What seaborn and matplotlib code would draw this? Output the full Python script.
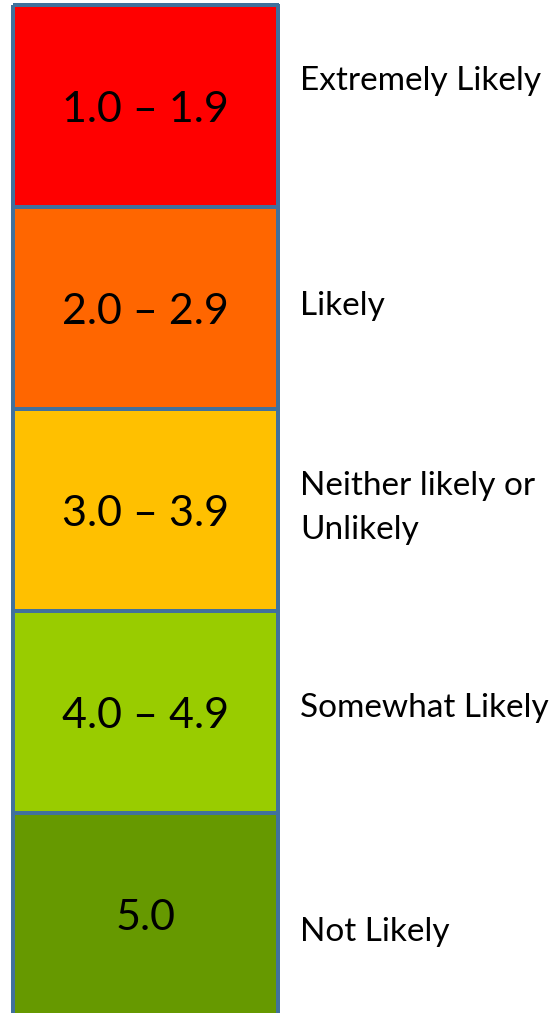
import numpy as np
import matplotlib
matplotlib.use("Agg")
import matplotlib.pyplot as plt
import matplotlib.transforms as mtransforms
from matplotlib.colors import ListedColormap
import seaborn as sns

# ---- data ----
score_ranges = ["1.0 \u2013 1.9", "2.0 \u2013 2.9", "3.0 \u2013 3.9", "4.0 \u2013 4.9", "5.0"]
likelihood_labels = ["Extremely Likely", "Likely", "Neither likely or\nUnlikely",
                     "Somewhat Likely", "Not Likely"]
band_colors = ["#FF0000", "#FF6600", "#FFC000", "#99CC00", "#669900"]

# label vertical placement within each band (fraction of band, 0 = top)
label_pos = [0.375, 0.49, 0.49, 0.48, 0.59]

sns.set_theme(style="white")
plt.rcParams["font.family"] = ["Lato", "DejaVu Sans"]

fig = plt.figure(figsize=(5.54, 10.13), dpi=100)
W, H = 554, 1013
ax = fig.add_axes([13 / W, -2 / H, 265 / W, 1010 / H])

codes = np.arange(len(score_ranges)).reshape(-1, 1)
annot = np.array(score_ranges).reshape(-1, 1)
sns.heatmap(codes, ax=ax, cmap=ListedColormap(band_colors), vmin=-0.5,
            vmax=len(band_colors) - 0.5, cbar=False, annot=annot, fmt="",
            annot_kws={"color": "black", "fontsize": 31, "va": "center_baseline"},
            linewidths=1.5, linecolor="#41719C", xticklabels=False, yticklabels=False)
ax.collections[0].set_clip_on(False)

trans = mtransforms.blended_transform_factory(ax.transAxes, ax.transData)
for i, (lab, p) in enumerate(zip(likelihood_labels, label_pos)):
    ax.text((300 - 13) / 265, i + p, lab, transform=trans, ha="left", va="center",
            fontsize=24, color="black", linespacing=1.6, clip_on=False)

for s in ax.spines.values():
    s.set_visible(False)

fig.savefig("out.png", dpi=100, facecolor="white")
